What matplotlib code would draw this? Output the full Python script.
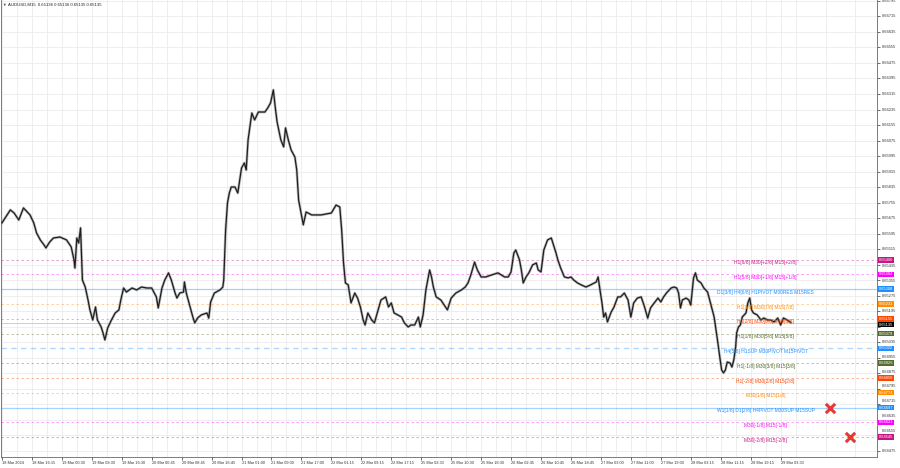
import matplotlib.pyplot as plt
import numpy as np

# M15 bar index (from the left edge) and price
bars = [0, 9, 13, 18, 23, 27, 30, 34, 37, 41, 45, 47, 51, 55, 62, 69, 74, 77, 78, 80,
        82, 84, 85, 86, 89, 92, 94, 97, 100, 102, 106, 108, 110, 113, 117, 121, 125, 127, 130, 133,
        139, 144, 149, 155, 160, 165, 167, 171, 174, 178, 181, 185, 187, 190, 194, 195, 197, 201, 204, 206,
        209, 213, 219, 221, 223, 227, 233, 236, 237, 239, 241, 243, 245, 249, 252, 256, 259, 261, 263, 267,
        270, 274, 277, 281, 284, 287, 290, 292, 294, 298, 301, 303, 306, 309, 313, 315, 317, 319, 322, 325,
        331, 341, 352, 357, 361, 363, 365, 367, 370, 373, 377, 380, 383, 386, 388, 391, 395, 398, 401, 405,
        410, 413, 416, 419, 423, 427, 430, 434, 437, 441, 445, 447, 450, 453, 457, 459, 461, 464, 469, 474,
        476, 480, 485, 491, 495, 498, 501, 505, 508, 512, 517, 523, 530, 537, 541, 544, 547, 549, 553, 555,
        557, 560, 563, 567, 571, 573, 576, 579, 583, 587, 590, 592, 594, 597, 601, 605, 608, 611, 615, 619,
        624, 629, 635, 637, 639, 641, 643, 645, 647, 651, 654, 658, 661, 665, 669, 672, 675, 679, 683, 686,
        690, 693, 697, 701, 704, 707, 710, 713, 715, 718, 721, 723, 725, 727, 731, 734, 736, 738, 739, 741,
        743, 747, 750, 754, 757, 761, 763, 765, 767, 769, 771, 773, 775, 778, 780, 782, 784, 785, 787, 789,
        791, 795, 797, 799, 801, 803, 807, 811, 814, 818, 821, 825, 829, 832, 835, 839, 843]
prices = [0.65650, 0.65717, 0.65701, 0.65665, 0.65727, 0.65706, 0.65691, 0.65650, 0.65598, 0.65562,
          0.65536, 0.65521, 0.65551, 0.65572, 0.65577, 0.65562, 0.65526, 0.65459, 0.65417, 0.65572,
          0.65546, 0.65624, 0.65495, 0.65355, 0.65319, 0.65252, 0.65201, 0.65149, 0.65216, 0.65149,
          0.65113, 0.65082, 0.65046, 0.65108, 0.65149, 0.65185, 0.65201, 0.65252, 0.65314, 0.65293,
          0.65314, 0.65304, 0.65319, 0.65314, 0.65314, 0.65268, 0.65211, 0.65314, 0.65355, 0.65392,
          0.65355, 0.65288, 0.65262, 0.65288, 0.65293, 0.65345, 0.65288, 0.65216, 0.65164, 0.65134,
          0.65159, 0.65175, 0.65185, 0.65159, 0.65242, 0.65288, 0.65304, 0.65319, 0.65355, 0.65613,
          0.65753, 0.65804, 0.65835, 0.65835, 0.65804, 0.65933, 0.65959, 0.65923, 0.66078, 0.66217,
          0.66181, 0.66222, 0.66222, 0.66222, 0.66243, 0.66269, 0.66336, 0.66248, 0.66171, 0.66078,
          0.66042, 0.66140, 0.66078, 0.66026, 0.65990, 0.65923, 0.65768, 0.65717, 0.65640, 0.65706,
          0.65691, 0.65691, 0.65701, 0.65742, 0.65732, 0.65613, 0.65443, 0.65340, 0.65330, 0.65237,
          0.65288, 0.65262, 0.65216, 0.65149, 0.65123, 0.65185, 0.65149, 0.65134, 0.65185, 0.65252,
          0.65268, 0.65216, 0.65237, 0.65185, 0.65175, 0.65164, 0.65134, 0.65113, 0.65123, 0.65123,
          0.65164, 0.65113, 0.65175, 0.65304, 0.65407, 0.65371, 0.65319, 0.65268, 0.65252, 0.65216,
          0.65201, 0.65262, 0.65288, 0.65304, 0.65319, 0.65340, 0.65381, 0.65448, 0.65407, 0.65371,
          0.65371, 0.65381, 0.65392, 0.65371, 0.65371, 0.65397, 0.65495, 0.65510, 0.65459, 0.65407,
          0.65340, 0.65371, 0.65392, 0.65433, 0.65443, 0.65407, 0.65397, 0.65510, 0.65562, 0.65572,
          0.65526, 0.65495, 0.65459, 0.65417, 0.65371, 0.65366, 0.65371, 0.65355, 0.65340, 0.65330,
          0.65319, 0.65330, 0.65345, 0.65371, 0.65304, 0.65242, 0.65164, 0.65185, 0.65139, 0.65190,
          0.65216, 0.65268, 0.65268, 0.65288, 0.65252, 0.65164, 0.65237, 0.65262, 0.65268, 0.65226,
          0.65159, 0.65211, 0.65237, 0.65262, 0.65242, 0.65268, 0.65288, 0.65304, 0.65314, 0.65319,
          0.65314, 0.65288, 0.65211, 0.65252, 0.65262, 0.65252, 0.65226, 0.65319, 0.65366, 0.65392,
          0.65355, 0.65340, 0.65314, 0.65293, 0.65237, 0.65164, 0.65097, 0.65030, 0.64958, 0.64891,
          0.64876, 0.64891, 0.64932, 0.64927, 0.64906, 0.64943, 0.65010, 0.65082, 0.65113, 0.65123,
          0.65164, 0.65185, 0.65237, 0.65262, 0.65201, 0.65185, 0.65175, 0.65149, 0.65159, 0.65149,
          0.65149, 0.65139, 0.65159, 0.65123, 0.65159, 0.65149, 0.65135]

tick_labels = ["18 Mar 2024", "18 Mar 16:15", "19 Mar 00:30", "19 Mar 08:30", "19 Mar 16:30",
               "20 Mar 00:45", "20 Mar 08:45", "20 Mar 16:45", "21 Mar 01:00", "21 Mar 09:00",
               "21 Mar 17:00", "22 Mar 01:15", "22 Mar 09:15", "22 Mar 17:15", "25 Mar 02:30",
               "25 Mar 10:30", "25 Mar 18:30", "26 Mar 02:45", "26 Mar 10:45", "26 Mar 18:45",
               "27 Mar 03:00", "27 Mar 11:00", "27 Mar 19:00", "28 Mar 03:15", "28 Mar 11:15",
               "28 Mar 19:15", "29 Mar 03:30"]

level_prices = [0.65460, 0.65384, 0.65308, 0.65231, 0.65155, 0.65079, 0.65002,
                0.64926, 0.64850, 0.64774, 0.64697, 0.64621, 0.64545]
level_names = ["H1[6/8] M30[+2/8] M15[+2/8]",
               "H1[5/8] M30[+1/8] M15[+1/8]",
               "D1[3/8] H4[6/8] H1PIVOT M30RES M15RES",
               "H1[3/8] M30[7/8] M15[7/8]",
               "H1[2/8] M30[6/8] M15[6/8]",
               "H1[1/8] M30[5/8] M15[5/8]",
               "H4[5/8] H1SUP M30PIVOT M15PIVOT",
               "H1[-1/8] M30[3/8] M15[3/8]",
               "H1[-2/8] M30[2/8] M15[2/8]",
               "M30[1/8] M15[1/8]",
               "W1[1/8] D1[2/8] H4PIVOT M30SUP M15SUP",
               "M30[-1/8] M15[-1/8]",
               "M30[-2/8] M15[-2/8]"]

last_price = 0.65135
target_bars = [885, 906]
target_prices = [0.64697, 0.64545]

symbol = "AUDUSD,M15"
ohlc = [0.65136, 0.65136, 0.65135, 0.65135]


def main():
    colors = ["#C71585", "#FF00FF", "#1E90FF", "#FF8C00", "#FF4500", "#556B2F", "#1E90FF",
              "#556B2F", "#FF4500", "#FF8C00", "#1E90FF", "#FF00FF", "#C71585"]
    solid = {"D1[3/8] H4[6/8] H1PIVOT M30RES M15RES", "W1[1/8] D1[2/8] H4PIVOT M30SUP M15SUP"}

    plt.rcParams["font.family"] = ["Liberation Sans", "DejaVu Sans"]
    fig = plt.figure(figsize=(9, 4.68), dpi=100)
    ax = fig.add_axes([1 / 900, 11 / 468, 876 / 900, 457 / 468])

    ax.set_xlim(-1, 935)
    ax.set_ylim(0.64442, 0.66800)

    # grid and scales
    ax.set_xticks(np.arange(0, 32 * len(tick_labels), 32))
    ax.set_xticklabels(tick_labels)
    ax.set_xticks(np.arange(16, 935, 32), minor=True)
    scale_prices = np.round(np.arange(0.64475, 0.66800, 0.0008), 5)
    ax.set_yticks(scale_prices)
    ax.yaxis.tick_right()
    ax.set_yticklabels([])
    ax.grid(which="both", color="#ebebeb", lw=0.6)
    ax.set_axisbelow(True)
    ax.tick_params(axis="x", which="major", labelsize=2.8, length=2, width=0.5, pad=1, colors="#333333")
    ax.tick_params(axis="x", which="minor", length=0)
    ax.tick_params(axis="y", length=2, width=0.5, colors="#333333")
    for lab in ax.get_xticklabels():
        lab.set_horizontalalignment("left")
    for side in ["left", "bottom", "right"]:
        ax.spines[side].set_color("#666666")
        ax.spines[side].set_linewidth(0.6)
    ax.spines["top"].set_visible(False)

    # level lines and names
    for p, name, c in zip(level_prices, level_names, colors):
        if name in solid:
            ax.axhline(p, color=c, lw=0.9, alpha=0.4, zorder=1)
        elif "H1SUP" in name:
            ax.axhline(p, color=c, lw=1.0, alpha=0.35, ls=(0, (4, 3)), zorder=1)
        else:
            ax.axhline(p, color=c, lw=0.6, alpha=0.45, ls=(0, (3, 3)), zorder=1)
        ax.text(816, p - 0.00003, name, color=c, fontsize=3.5, ha="center", va="top", zorder=4)

    ax.axhline(last_price, color="#c8c8c8", lw=0.6, zorder=1)

    # price
    ax.plot(bars, prices, color="#8c8c8c", lw=1.9, alpha=0.6, zorder=2)
    ax.plot(bars, prices, color="#1e1e1e", lw=0.9, zorder=3)

    ax.scatter(target_bars, target_prices, marker="x", s=45, color="#E53935", linewidths=2.2, zorder=5)

    # right price scale: labels step aside from the coloured tags like the terminal does
    tr = ax.get_yaxis_transform()
    tag_prices = level_prices + [last_price]
    gap = 0.00032
    for t in scale_prices:
        near = [q for q in tag_prices if abs(q - t) < gap]
        pos = t
        if len(near) == 1:
            q = near[0]
            pos = q + gap if t >= q else q - gap
            if any(abs(r - pos) < gap - 0.00002 for r in tag_prices if r != q):
                continue
        elif len(near) > 1:
            continue
        ax.text(1.0055, pos, f"{t:.5f}", transform=tr, fontsize=2.9, color="#333333",
                ha="left", va="center", clip_on=False)

    ax.text(1.0025, last_price, f"{last_price:.5f}", transform=tr, fontsize=2.9, color="white",
            ha="left", va="top", clip_on=False, zorder=6,
            bbox=dict(boxstyle="square,pad=0.2", fc="black", ec="none"))
    for p, c in zip(level_prices, colors):
        ax.text(1.0025, p, f"{p:.5f}", transform=tr, fontsize=2.9, color="white",
                ha="left", va="center", clip_on=False, zorder=7,
                bbox=dict(boxstyle="square,pad=0.2", fc=c, ec="none"))

    fig.text(2 / 900, 1 - 5 / 468, "\u25BC", fontsize=2.6, va="center", color="#333333")
    fig.text(8 / 900, 1 - 5 / 468, symbol + "  " + " ".join(f"{v:.5f}" for v in ohlc),
             fontsize=3.1, va="center", color="#222222")

    fig.savefig("out.png", dpi=100)
    plt.close(fig)


if __name__ == "__main__":
    main()
